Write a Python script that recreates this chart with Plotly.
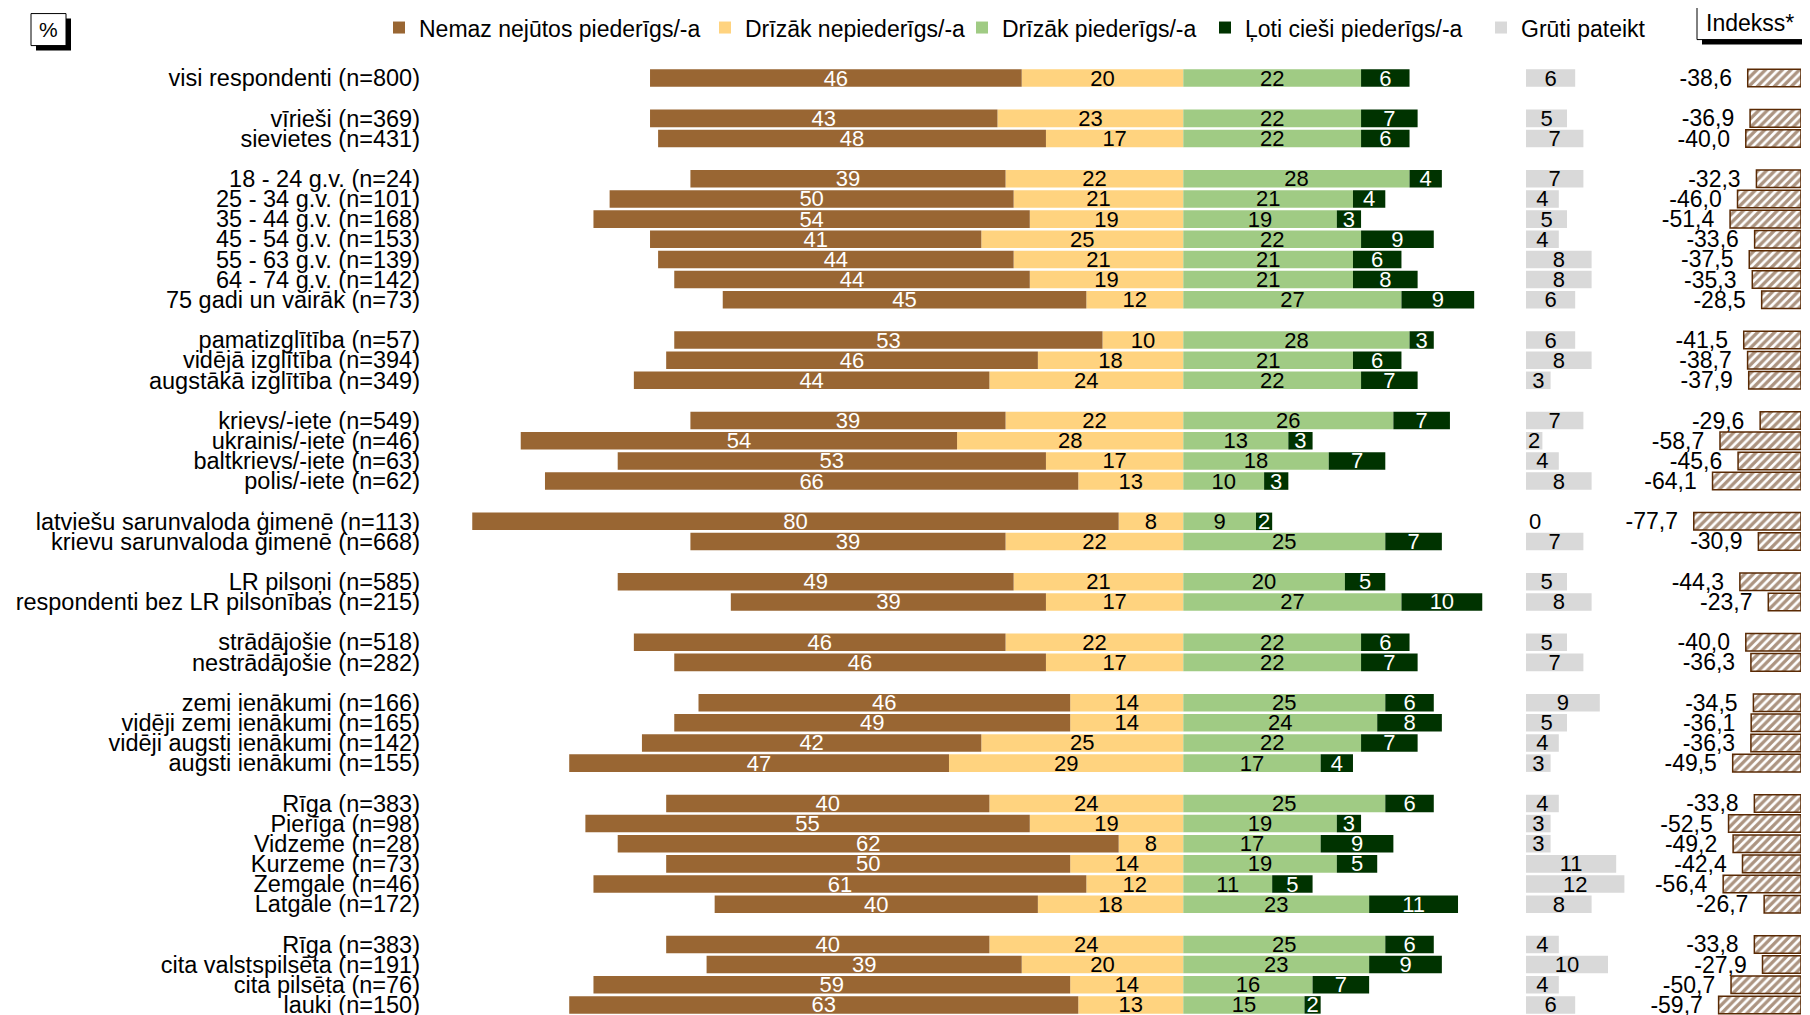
import plotly.graph_objects as go

# the page body has an 8px margin around the figure
OFF = 8
W, H = 1810 - 2 * OFF, 1020
FONT = "Liberation Sans, Arial, sans-serif"

# --- data ---------------------------------------------------------------
categories = [
    "visi respondenti (n=800)",
    "vīrieši (n=369)", "sievietes (n=431)",
    "18 - 24 g.v. (n=24)", "25 - 34 g.v. (n=101)", "35 - 44 g.v. (n=168)",
    "45 - 54 g.v. (n=153)", "55 - 63 g.v. (n=139)", "64 - 74 g.v. (n=142)",
    "75 gadi un vairāk (n=73)",
    "pamatizglītība (n=57)", "vidējā izglītība (n=394)", "augstākā izglītība (n=349)",
    "krievs/-iete (n=549)", "ukrainis/-iete (n=46)", "baltkrievs/-iete (n=63)", "polis/-iete (n=62)",
    "latviešu sarunvaloda ģimenē (n=113)", "krievu sarunvaloda ģimenē (n=668)",
    "LR pilsoņi (n=585)", "respondenti bez LR pilsonības (n=215)",
    "strādājošie (n=518)", "nestrādājošie (n=282)",
    "zemi ienākumi (n=166)", "vidēji zemi ienākumi (n=165)",
    "vidēji augsti ienākumi (n=142)", "augsti ienākumi (n=155)",
    "Rīga (n=383)", "Pierīga (n=98)", "Vidzeme (n=28)", "Kurzeme (n=73)",
    "Zemgale (n=46)", "Latgale (n=172)",
    "Rīga (n=383)", "cita valstspilsēta (n=191)", "cita pilsēta (n=76)", "lauki (n=150)",
]
group_sizes = [1, 2, 7, 3, 4, 2, 2, 2, 4, 6, 4]

nemaz = [46, 43, 48, 39, 50, 54, 41, 44, 44, 45, 53, 46, 44, 39, 54, 53, 66, 80, 39,
         49, 39, 46, 46, 46, 49, 42, 47, 40, 55, 62, 50, 61, 40, 40, 39, 59, 63]
nepiederigs = [20, 23, 17, 22, 21, 19, 25, 21, 19, 12, 10, 18, 24, 22, 28, 17, 13, 8, 22,
               21, 17, 22, 17, 14, 14, 25, 29, 24, 19, 8, 14, 12, 18, 24, 20, 14, 13]
piederigs = [22, 22, 22, 28, 21, 19, 22, 21, 21, 27, 28, 21, 22, 26, 13, 18, 10, 9, 25,
             20, 27, 22, 22, 25, 24, 22, 17, 25, 19, 17, 19, 11, 23, 25, 23, 16, 15]
ciesi = [6, 7, 6, 4, 4, 3, 9, 6, 8, 9, 3, 6, 7, 7, 3, 7, 3, 2, 7,
         5, 10, 6, 7, 6, 8, 7, 4, 6, 3, 9, 5, 5, 11, 6, 9, 7, 2]
gruti = [6, 5, 7, 7, 4, 5, 4, 8, 8, 6, 6, 8, 3, 7, 2, 4, 8, 0, 7,
         5, 8, 5, 7, 9, 5, 4, 3, 4, 3, 3, 11, 12, 8, 4, 10, 4, 6]
indekss = [-38.6, -36.9, -40.0, -32.3, -46.0, -51.4, -33.6, -37.5, -35.3, -28.5,
           -41.5, -38.7, -37.9, -29.6, -58.7, -45.6, -64.1, -77.7, -30.9,
           -44.3, -23.7, -40.0, -36.3, -34.5, -36.1, -36.3, -49.5,
           -33.8, -52.5, -49.2, -42.4, -56.4, -26.7, -33.8, -27.9, -50.7, -59.7]

# row slots: one empty slot between groups
slots = []
pos = 0
for g in group_sizes:
    slots.extend(range(pos, pos + g))
    pos += g + 1
n_slots = pos - 1

# --- layout helpers: screen px -> paper coords
SLOT = 20.14                      # row pitch
TOP = 68.4                        # top of plot area on screen
M_T = TOP - OFF
M_B = 0
PLOT_BOTTOM = OFF + H - M_B
PLOT_H = PLOT_BOTTOM - TOP


def px(x):
    return (x - OFF) / W


def py(y):
    return (PLOT_BOTTOM - y) / PLOT_H


CENTER = 1183.3
UNIT = 8.08
X1_L, X1_R = 421, 1500
X2_L, X2_R, UNIT2 = 1526, 1640, 8.2
X3_R = OFF + W - 1
X3_L, UNIT3 = 1640, 1.38

fig = go.Figure()

bar_common = dict(orientation="h", y=slots, textposition="inside",
                  insidetextanchor="middle", constraintext="none", textangle=0,
                  hoverinfo="skip", marker_line_width=0)

fig.add_trace(go.Bar(name="Drīzāk nepiederīgs/-a", x=[-v for v in nepiederigs],
                     text=[str(v) for v in nepiederigs], marker_color="#FFD37F",
                     textfont=dict(family=FONT, size=22, color="black"),
                     legend="legend2", **bar_common))
fig.add_trace(go.Bar(name="Nemaz nejūtos piederīgs/-a", x=[-v for v in nemaz],
                     text=[str(v) for v in nemaz], marker_color="#996633",
                     textfont=dict(family=FONT, size=22, color="white"),
                     legend="legend", **bar_common))
fig.add_trace(go.Bar(name="Drīzāk piederīgs/-a", x=piederigs,
                     text=[str(v) for v in piederigs], marker_color="#A0CB84",
                     textfont=dict(family=FONT, size=22, color="black"),
                     legend="legend3", **bar_common))
fig.add_trace(go.Bar(name="Ļoti cieši piederīgs/-a", x=ciesi,
                     text=[str(v) for v in ciesi], marker_color="#003300",
                     textfont=dict(family=FONT, size=22, color="white"),
                     legend="legend4", **bar_common))

fig.add_trace(go.Bar(name="Grūti pateikt", x=gruti, y=slots, orientation="h",
                     xaxis="x2", yaxis="y", legend="legend5",
                     text=[str(v) for v in gruti],
                     textposition=["outside" if v == 0 else "inside" for v in gruti],
                     insidetextanchor="middle", constraintext="none", textangle=0,
                     cliponaxis=False,
                     textfont=dict(family=FONT, size=22, color="black"),
                     marker_color="#D9D9D9", marker_line_width=0, hoverinfo="skip"))

fig.add_trace(go.Bar(name="Indekss*", x=indekss, y=slots, orientation="h",
                     xaxis="x3", yaxis="y", showlegend=False,
                     text=[f"{v:.1f}".replace(".", ",") + "\u00a0\u00a0" for v in indekss],
                     textposition="outside", constraintext="none", textangle=0,
                     cliponaxis=False,
                     textfont=dict(family=FONT, size=23, color="black"),
                     marker=dict(color="white", line=dict(color="#5A2A04", width=1.5),
                                 pattern=dict(shape="/", fgcolor="#5A2A04", bgcolor="white",
                                              size=6, solidity=0.55)),
                     hoverinfo="skip"))

yrange = [PLOT_H / SLOT - 0.5, -0.5]
fig.update_layout(
    width=W, height=H,
    margin=dict(l=0, r=0, t=M_T, b=M_B, autoexpand=False),
    paper_bgcolor="white", plot_bgcolor="rgba(0,0,0,0)",
    barmode="relative", bargap=0.13,
    font=dict(family=FONT, size=23, color="black"),
    xaxis=dict(domain=[px(X1_L), px(X1_R)],
               range=[-(CENTER - X1_L) / UNIT, (X1_R - CENTER) / UNIT],
               visible=False),
    xaxis2=dict(domain=[px(X2_L), px(X2_R)], range=[0, (X2_R - X2_L) / UNIT2],
                anchor="y", visible=False),
    xaxis3=dict(domain=[px(X3_L), px(X3_R)], range=[-(X3_R - X3_L) / UNIT3, 0],
                anchor="y", visible=False),
    yaxis=dict(range=yrange, tickmode="array", tickvals=slots, ticktext=categories,
               ticks="", showgrid=False, zeroline=False, showline=False,
               tickfont=dict(family=FONT, size=23.5, color="black")),
    yaxis2=dict(overlaying="y", anchor="free", position=px(CENTER), side="left",
                range=yrange, tickmode="array",
                tickvals=[s - 0.5 for s in range(n_slots + 2)],
                ticks="outside", ticklen=6, tickcolor="#404040", tickwidth=1.2,
                showticklabels=False, showgrid=False, zeroline=False,
                showline=True, linecolor="#404040", linewidth=1.5),
    yaxis3=dict(overlaying="y", anchor="free", position=px(X3_R), side="right",
                range=yrange, showticklabels=False, ticks="", showgrid=False,
                zeroline=False, showline=True, linecolor="black", linewidth=1.5),
    showlegend=True,
)

legend_style = dict(orientation="h", yref="paper", y=py(28), yanchor="middle",
                    xanchor="left", bgcolor="rgba(0,0,0,0)", borderwidth=0,
                    font=dict(family=FONT, size=23, color="black"), itemwidth=30)
legend_text_x = {"legend": 419, "legend2": 745, "legend3": 1002,
                 "legend4": 1245, "legend5": 1521}
fig.update_layout({k: dict(x=px(v - 40), **legend_style) for k, v in legend_text_x.items()})

# "%" box and "Indekss*" box with drop shadow
shapes = []
for (x0, y0, x1, y1) in [(31, 14, 66, 46), (1697, 6, 1830, 40)]:
    shapes.append(dict(type="rect", xref="paper", yref="paper",
                       x0=px(x0 + 5), x1=px(x1 + 5), y0=py(y0 + 5), y1=py(y1 + 5),
                       fillcolor="black", line_width=0, layer="above"))
    shapes.append(dict(type="rect", xref="paper", yref="paper",
                       x0=px(x0), x1=px(x1), y0=py(y0), y1=py(y1),
                       fillcolor="white", line=dict(color="black", width=1), layer="above"))
fig.update_layout(shapes=shapes)
fig.add_annotation(text="%", xref="paper", yref="paper", x=px(48.5), y=py(30),
                   xanchor="center", yanchor="middle", showarrow=False,
                   font=dict(family=FONT, size=21, color="black"))
fig.add_annotation(text="Indekss*", xref="paper", yref="paper", x=px(1704), y=py(23),
                   xanchor="left", yanchor="middle", showarrow=False,
                   font=dict(family=FONT, size=23, color="black"))

fig.write_html("out.html")
